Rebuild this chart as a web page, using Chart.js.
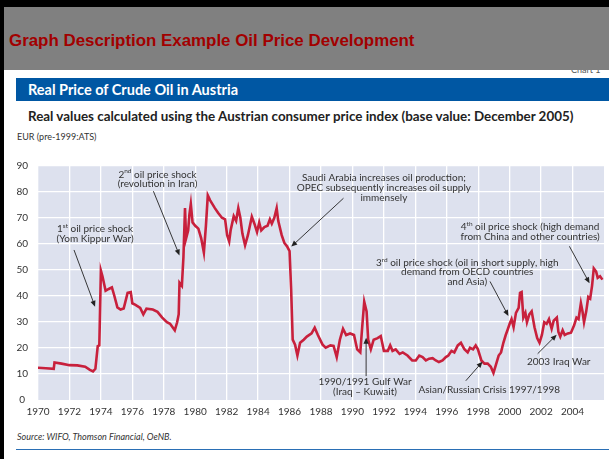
<!DOCTYPE html>
<html>
<head>
<meta charset="utf-8">
<script src="https://cdn.jsdelivr.net/npm/chart.js@4"></script>
<style>
  html, body { margin: 0; padding: 0; background: #fff; }
  body { width: 609px; height: 459px; position: relative; overflow: hidden; font-family: Lato, "Open Sans", sans-serif; }
  .abs { position: absolute; }
  #frameTop { left: 0; top: 0; width: 609px; height: 7px; background: #000; z-index: 5; }
  #frameLeft { left: 0; top: 0; width: 4px; height: 459px; background: #000; z-index: 5; }
  #chartNo { left: 571px; top: 64px; font-size: 9px; color: #555; z-index: 1; }
  #header { left: 4px; top: 7px; width: 605px; height: 63px; background: #808080; z-index: 2; }
  #header span { position: absolute; left: 5px; top: 24px; font: bold 16.9px "Liberation Sans", Arial, sans-serif; color: #a20000; white-space: nowrap; }
  #band { left: 16px; top: 78px; width: 593px; height: 23px; background: #0057a3; color: #fff; font-weight: bold; font-size: 14.5px; line-height: 23px; padding-left: 12px; box-sizing: border-box; white-space: nowrap; }
  #subtitle { left: 28px; top: 108px; font-weight: bold; font-size: 13.4px; color: #222; white-space: nowrap; }
  #unit { left: 17px; top: 131px; font-size: 9px; color: #333; white-space: nowrap; }
  #plot { left: 8px; top: 150px; width: 601px; height: 275px; }
  #source { left: 17px; top: 431px; font-size: 9px; font-style: italic; color: #333; white-space: nowrap; }
  #rule { left: 16px; top: 449px; width: 593px; height: 1px; background: #2a6fb5; }
</style>
</head>
<body>
<div id="frameTop" class="abs"></div>
<div id="frameLeft" class="abs"></div>
<div id="chartNo" class="abs">Chart 1</div>
<div id="header" class="abs"><span>Graph Description Example Oil Price Development</span></div>
<div id="band" class="abs">Real Price of Crude Oil in Austria</div>
<div id="subtitle" class="abs">Real values calculated using the Austrian consumer price index (base value: December 2005)</div>
<div id="unit" class="abs">EUR (pre-1999:ATS)</div>
<div id="plot" class="abs"><canvas id="oil"></canvas></div>
<div id="source" class="abs">Source: WIFO, Thomson Financial, OeNB.</div>
<div id="rule" class="abs"></div>

<script>
// Real oil price in Austria, EUR (pre-1999 ATS)
const years = [
  1970.00, 1970.50, 1971.00, 1971.05, 1971.50, 1972.00, 1972.50, 1973.00, 1973.30, 1973.50,
  1973.65, 1973.80, 1973.90, 1974.00, 1974.10, 1974.30, 1974.50, 1974.70, 1974.85, 1975.05,
  1975.25, 1975.45, 1975.70, 1975.90, 1976.00, 1976.20, 1976.50, 1976.70, 1976.90, 1977.30,
  1977.60, 1977.90, 1978.20, 1978.40, 1978.70, 1978.85, 1978.95, 1979.00, 1979.15, 1979.25,
  1979.35, 1979.42, 1979.55, 1979.63, 1979.72, 1979.83, 1980.00, 1980.20, 1980.38, 1980.55,
  1980.68, 1980.80, 1980.95, 1981.25, 1981.45, 1981.70, 1981.90, 1982.03, 1982.16, 1982.25,
  1982.45, 1982.60, 1982.74, 1982.87, 1983.00, 1983.17, 1983.35, 1983.60, 1983.77, 1983.93,
  1984.07, 1984.20, 1984.40, 1984.60, 1984.75, 1984.87, 1985.03, 1985.18, 1985.28, 1985.50,
  1985.67, 1985.84, 1986.00, 1986.10, 1986.20, 1986.35, 1986.50, 1986.67, 1986.90, 1987.10,
  1987.40, 1987.60, 1987.80, 1988.10, 1988.30, 1988.60, 1988.80, 1989.00, 1989.20, 1989.40,
  1989.60, 1989.85, 1990.10, 1990.30, 1990.50, 1990.62, 1990.75, 1990.90, 1991.00, 1991.17,
  1991.35, 1991.60, 1991.80, 1992.00, 1992.25, 1992.40, 1992.55, 1992.75, 1993.00, 1993.20,
  1993.50, 1993.80, 1994.03, 1994.25, 1994.46, 1994.67, 1994.88, 1995.10, 1995.30, 1995.50,
  1995.73, 1995.94, 1996.10, 1996.30, 1996.48, 1996.70, 1996.90, 1997.12, 1997.33, 1997.48,
  1997.67, 1997.84, 1997.98, 1998.20, 1998.40, 1998.60, 1998.80, 1998.97, 1999.12, 1999.30,
  1999.45, 1999.60, 1999.75, 1999.87, 2000.00, 2000.12, 2000.25, 2000.40, 2000.57, 2000.66,
  2000.76, 2000.87, 2001.00, 2001.10, 2001.25, 2001.40, 2001.58, 2001.75, 2001.90, 2002.05,
  2002.20, 2002.35, 2002.50, 2002.67, 2002.80, 2003.00, 2003.10, 2003.22, 2003.37, 2003.50,
  2003.70, 2003.90, 2004.10, 2004.25, 2004.38, 2004.53, 2004.63, 2004.73, 2004.87, 2005.00,
  2005.12, 2005.24, 2005.35, 2005.50, 2005.60, 2005.75, 2005.90
];
const prices = [
  12.4, 12.2, 12.0, 14.4, 14.0, 13.4, 13.3, 12.8, 11.6, 11.0,
  12.0, 20.7, 21.0, 49.8, 47.6, 42.0, 42.7, 43.3, 40.2, 35.6,
  34.8, 35.2, 41.2, 41.5, 37.2, 36.6, 35.4, 32.9, 35.1, 34.8,
  33.9, 31.7, 29.9, 29.3, 26.8, 29.9, 33.0, 45.1, 43.9, 54.9,
  73.8, 62.2, 65.2, 71.3, 75.4, 68.3, 67.0, 65.9, 62.2, 56.7,
  67.0, 78.7, 76.8, 73.8, 72.0, 70.1, 69.5, 63.4, 61.0, 65.2,
  70.7, 68.9, 73.8, 70.1, 64.0, 59.5, 63.4, 70.5, 67.7, 64.6,
  68.3, 65.2, 66.5, 67.0, 69.5, 67.8, 70.1, 73.8, 68.9, 63.4,
  60.4, 59.1, 57.3, 42.7, 23.2, 21.3, 17.1, 22.0, 23.2, 24.4,
  25.6, 27.8, 25.0, 21.3, 20.1, 21.0, 20.8, 16.5, 23.2, 27.4,
  25.0, 25.6, 25.0, 19.5, 18.3, 28.0, 37.8, 34.1, 23.2, 19.5,
  23.2, 23.8, 24.6, 18.9, 18.9, 21.0, 18.9, 19.5, 17.7, 18.3,
  17.1, 15.2, 15.2, 17.1, 16.5, 15.2, 15.9, 16.1, 15.2, 14.6,
  15.2, 16.5, 17.1, 18.9, 18.3, 21.0, 22.0, 19.5, 18.3, 20.1,
  19.5, 21.0, 19.5, 15.2, 14.0, 14.0, 12.8, 10.4, 13.4, 17.1,
  18.3, 22.0, 25.0, 27.0, 29.3, 31.1, 28.0, 33.5, 35.4, 41.2,
  41.5, 31.7, 33.5, 29.9, 32.9, 34.1, 28.0, 23.8, 22.0, 25.0,
  29.9, 29.3, 31.1, 27.4, 30.5, 31.7, 26.2, 24.4, 26.8, 25.0,
  25.6, 25.9, 28.7, 31.7, 31.1, 37.2, 34.1, 29.9, 34.1, 39.6,
  39.0, 43.9, 50.6, 49.4, 47.0, 47.6, 46.3
];
const yearTicks = [1970, 1972, 1974, 1976, 1978, 1980, 1982, 1984, 1986, 1988,
  1990, 1992, 1994, 1996, 1998, 2000, 2002, 2004];

// annotations: text block centre (year, value), arrow from -> to in data units
const notes = [
  { at: [1973.63, 65.8], lines: ['1^st oil price shock', '(Yom Kippur War)'], from: [1972.29, 57.7], to: [1973.63, 35.9] },
  { at: [1977.6, 86.8], lines: ['2^nd oil price shock', '(revolution in Iran)'], from: [1977.34, 80.3], to: [1979.0, 55.6] },
  { at: [1992.0, 85.3], lines: ['Saudi Arabia increases oil production;', 'OPEC subsequently increases oil supply', 'immensely'], from: [1989.43, 77.6], to: [1986.11, 59.0] },
  { at: [2001.3, 66.5], lines: ['4^th oil price shock (high demand', 'from China and other countries)'], from: [2003.8, 59.1], to: [2005.08, 44.9] },
  { at: [1997.3, 52.9], lines: ['3^rd oil price shock (oil in short supply, high', 'demand from OECD countries', 'and Asia)'], from: [1998.75, 45.6], to: [1999.92, 32.3] },
  { at: [1990.8, 7.0], lines: ['1990/1991 Gulf War', '(Iraq \u2013 Kuwait)'], from: [1990.87, 9.2], to: [1990.87, 23.9] },
  { at: [1998.7, 4.0], lines: ['Asian/Russian Crisis 1997/1998'], from: [1997.21, 7.4], to: [1998.27, 14.7] },
  { at: [2003.12, 14.7], lines: ['2003 Iraq War'], from: [2001.78, 17.8], to: [2002.99, 25.1] }
];

const plotBackground = {
  id: 'plotBackground',
  beforeDraw(chart) {
    const { ctx, chartArea: a } = chart;
    ctx.save();
    ctx.fillStyle = '#dde1ee';
    ctx.fillRect(a.left, a.top, a.right - a.left, a.bottom - a.top);
    ctx.restore();
  }
};

// draws one line of text, "^xx" becomes a superscript
function drawRich(ctx, text, cx, cy) {
  const parts = text.split(/\^(\w+)/);
  const fonts = parts.map((p, i) => i % 2 ? '6.5px Lato' : '10px Lato');
  let total = 0;
  parts.forEach((p, i) => { ctx.font = fonts[i]; total += ctx.measureText(p).width; });
  let x = cx - total / 2;
  parts.forEach((p, i) => {
    ctx.font = fonts[i];
    ctx.fillText(p, x, i % 2 ? cy - 3 : cy);
    x += ctx.measureText(p).width;
  });
}

const annotations = {
  id: 'annotations',
  afterDatasetsDraw(chart) {
    const { ctx, scales: { x, y } } = chart;
    ctx.save();
    ctx.textAlign = 'left';
    ctx.textBaseline = 'middle';
    notes.forEach(n => {
      const cx = x.getPixelForValue(n.at[0]);
      const cy = y.getPixelForValue(n.at[1]);
      ctx.fillStyle = '#333';
      n.lines.forEach((line, i) => drawRich(ctx, line, cx, cy + i * 9.8));

      const x1 = x.getPixelForValue(n.from[0]), y1 = y.getPixelForValue(n.from[1]);
      const x2 = x.getPixelForValue(n.to[0]), y2 = y.getPixelForValue(n.to[1]);
      const ang = Math.atan2(y2 - y1, x2 - x1);
      ctx.strokeStyle = '#222';
      ctx.fillStyle = '#222';
      ctx.lineWidth = 0.9;
      ctx.beginPath();
      ctx.moveTo(x1, y1);
      ctx.lineTo(x2 - 4 * Math.cos(ang), y2 - 4 * Math.sin(ang));
      ctx.stroke();
      ctx.beginPath();
      ctx.moveTo(x2, y2);
      ctx.lineTo(x2 - 6 * Math.cos(ang) + 2.6 * Math.sin(ang), y2 - 6 * Math.sin(ang) - 2.6 * Math.cos(ang));
      ctx.lineTo(x2 - 6 * Math.cos(ang) - 2.6 * Math.sin(ang), y2 - 6 * Math.sin(ang) + 2.6 * Math.cos(ang));
      ctx.closePath();
      ctx.fill();
    });
    ctx.restore();
  }
};

const ctx = document.getElementById('oil').getContext('2d');
new Chart(ctx, {
  type: 'line',
  data: {
    datasets: [{
      label: 'Real oil price',
      data: years.map((yr, i) => ({ x: yr, y: prices[i] })),
      borderColor: '#c8203c',
      borderWidth: 2.6,
      pointRadius: 0,
      tension: 0,
      fill: false
    }]
  },
  options: {
    responsive: true,
    maintainAspectRatio: false,
    animation: false,
    layout: { padding: { top: 4, right: 5, bottom: 5, left: 0 } },
    plugins: {
      legend: { display: false },
      tooltip: { enabled: false }
    },
    scales: {
      x: {
        type: 'linear',
        min: 1970,
        max: 2006,
        afterBuildTicks(scale) { scale.ticks = yearTicks.map(v => ({ value: v })); },
        afterFit(scale) { scale.height = 20; },
        border: { display: false },
        grid: { color: '#ffffff', lineWidth: 1.3, drawTicks: false },
        ticks: {
          padding: 6,
          maxRotation: 0,
          autoSkip: false,
          color: '#333',
          font: { family: 'Lato', size: 10 },
          callback: v => String(v)
        }
      },
      y: {
        min: 0,
        max: 90,
        afterFit(scale) { scale.width = 30; },
        border: { display: false },
        grid: { color: (c) => c.tick.value === 0 ? 'rgba(0,0,0,0)' : '#ffffff', lineWidth: 1.3, drawTicks: false },
        ticks: {
          stepSize: 10,
          padding: 10,
          crossAlign: 'center',
          color: '#333',
          font: { family: 'Lato', size: 10 }
        }
      }
    }
  },
  plugins: [plotBackground, annotations]
});
</script>
</body>
</html>
